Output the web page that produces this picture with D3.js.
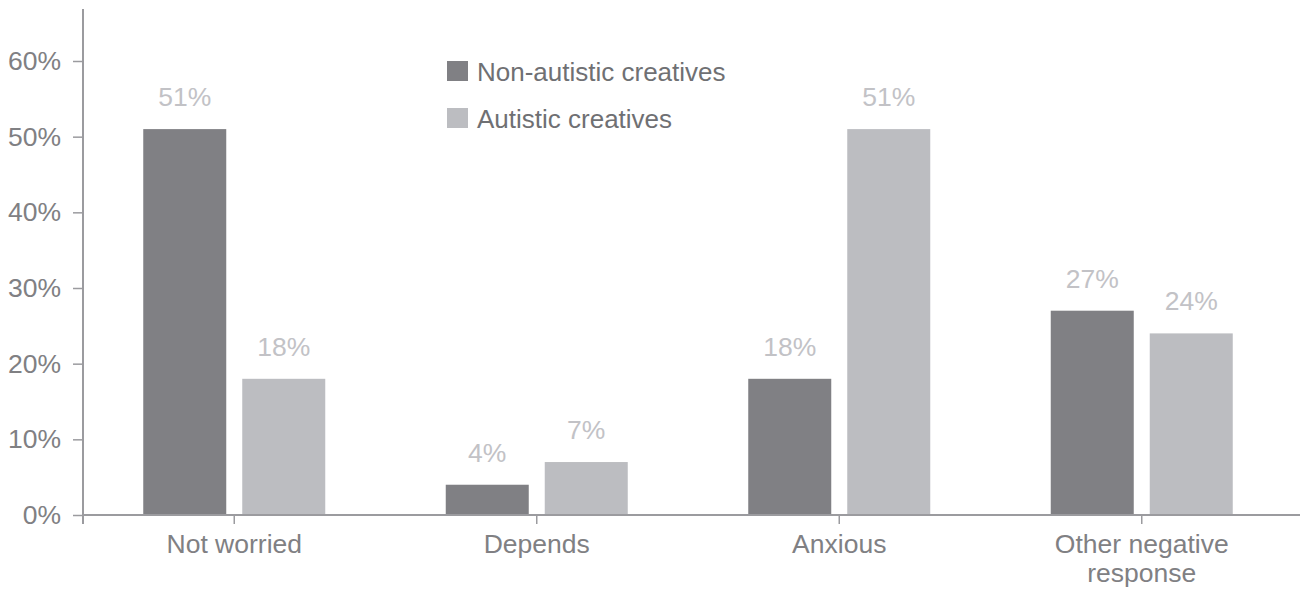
<!DOCTYPE html>
<html>
<head>
<meta charset="utf-8">
<script src="https://cdn.jsdelivr.net/npm/d3@7"></script>
<style>
  html, body { margin: 0; padding: 0; background: #ffffff; }
  svg { display: block; font-family: "Liberation Sans", Arial, Helvetica, sans-serif; }
</style>
</head>
<body>
<svg id="chart" width="1300" height="589"></svg>
<script>
const categories = ["Not worried", "Depends", "Anxious", "Other negative response"];
const categoryLines = [["Not worried"], ["Depends"], ["Anxious"], ["Other negative", "response"]];
const seriesNames = ["Non-autistic creatives", "Autistic creatives"];
const nonAutistic = [51, 4, 18, 27];
const autistic = [18, 7, 51, 24];
const yTicks = [0, 10, 20, 30, 40, 50, 60];
const yTickLabels = ["0%", "10%", "20%", "30%", "40%", "50%", "60%"];

const colors = ["#808084", "#bcbdc1"];
const axisColor = "#9b9b9f";
const textColor = "#808083";
const valueColor = "#c2c2c6";
const legendText = "#6f7073";

const svg = d3.select("#chart");
const x0 = 83, x1 = 1293, yBase = 515, yTop60 = 61;

const x = d3.scaleBand().domain(categories).range([x0, x1]).paddingInner(0).paddingOuter(0);
const xs = d3.scaleBand().domain(seriesNames).range([0, 182]).paddingInner(16 / 99).paddingOuter(0);
const y = d3.scaleLinear().domain([0, 60]).range([yBase, yTop60]);

const data = categories.map((c, i) => ({ cat: c, vals: [nonAutistic[i], autistic[i]] }));

// bars
const groups = svg.selectAll("g.cat").data(data).join("g")
  .attr("class", "cat")
  .attr("transform", d => `translate(${x(d.cat) + x.bandwidth() / 2 - 91},0)`);

groups.selectAll("rect").data(d => d.vals.map((v, j) => ({ v, s: seriesNames[j], j })))
  .join("rect")
  .attr("x", d => xs(d.s))
  .attr("width", xs.bandwidth())
  .attr("y", d => y(d.v))
  .attr("height", d => yBase - y(d.v))
  .attr("fill", d => colors[d.j]);

groups.selectAll("text.val").data(d => d.vals.map((v, j) => ({ v, s: seriesNames[j], j })))
  .join("text")
  .attr("class", "val")
  .attr("x", d => xs(d.s) + xs.bandwidth() / 2)
  .attr("y", d => y(d.v) - 23)
  .attr("text-anchor", "middle")
  .attr("font-size", 26.5)
  .attr("fill", valueColor)
  .text(d => d.v + "%");

// y axis
const yAxis = d3.axisLeft(y).tickValues(yTicks).tickFormat((d, i) => yTickLabels[i]).tickSize(10).tickPadding(12);
const gy = svg.append("g").attr("transform", `translate(${x0},0)`).call(yAxis);
gy.select(".domain").remove();
gy.selectAll(".tick line").attr("stroke", axisColor).attr("stroke-width", 1.5);
gy.selectAll(".tick text").attr("fill", textColor).attr("font-size", 26.5)
  .attr("font-family", "Liberation Sans, Arial, sans-serif");
svg.append("line").attr("x1", x0).attr("x2", x0).attr("y1", 9).attr("y2", yBase + 9)
  .attr("stroke", axisColor).attr("stroke-width", 2);

// x axis
const xAxis = d3.axisBottom(x).tickSize(9).tickFormat("");
const gx = svg.append("g").attr("transform", `translate(0,${yBase})`).call(xAxis);
gx.select(".domain").remove();
gx.selectAll(".tick line").attr("stroke", axisColor).attr("stroke-width", 1.5);
svg.append("line").attr("x1", x0).attr("x2", 1300).attr("y1", yBase).attr("y2", yBase)
  .attr("stroke", axisColor).attr("stroke-width", 2);

svg.selectAll("text.cat").data(categories).join("text")
  .attr("class", "cat")
  .attr("x", d => x(d) + x.bandwidth() / 2)
  .attr("y", 553)
  .attr("text-anchor", "middle")
  .attr("font-size", 26.5)
  .attr("fill", textColor)
  .each(function (d, i) {
    const t = d3.select(this);
    categoryLines[i].forEach((ln, k) => {
      t.append("tspan").attr("x", x(d) + x.bandwidth() / 2).attr("dy", k === 0 ? 0 : 29).text(ln);
    });
  });

// legend
const legend = svg.append("g").attr("transform", "translate(447,61)");
seriesNames.forEach((s, i) => {
  legend.append("rect").attr("x", 0).attr("y", i * 47).attr("width", 21).attr("height", 20).attr("fill", colors[i]);
  legend.append("text").attr("x", 30).attr("y", i * 47 + 20).attr("font-size", 26).attr("fill", legendText).text(s);
});
</script>
</body>
</html>
